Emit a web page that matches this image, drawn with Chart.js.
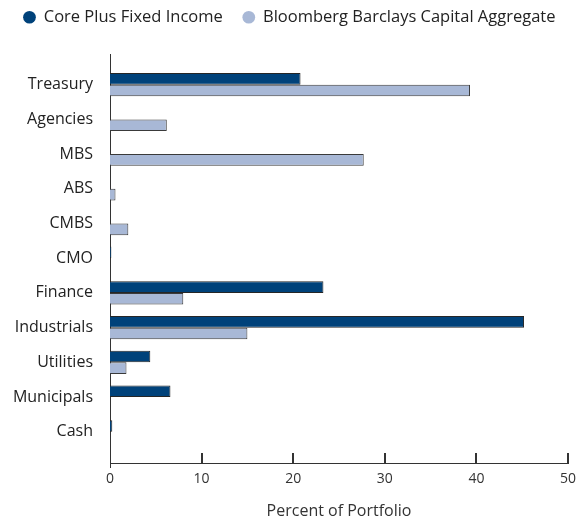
<!DOCTYPE html>
<html>
<head>
<meta charset="utf-8">
<script src="https://cdn.jsdelivr.net/npm/chart.js@4/dist/chart.umd.min.js"></script>
<style>
  html, body { margin: 0; padding: 0; background: #fff; }
  #wrap { width: 579px; height: 521px; position: relative; }
</style>
</head>
<body>
<div id="wrap"><canvas id="sectorChart"></canvas></div>
<script>
// Sector weights, percent of portfolio
var sectors = ['Treasury', 'Agencies', 'MBS', 'ABS', 'CMBS', 'CMO', 'Finance', 'Industrials', 'Utilities', 'Municipals', 'Cash'];
var corePlus = [20.8, 0, 0, 0, 0, 0.15, 23.3, 45.2, 4.4, 6.6, 0.25];
var aggregate = [39.3, 6.2, 27.7, 0.6, 2.0, 0, 8.0, 15.0, 1.8, 0, 0];
var xTicks = [0, 10, 20, 30, 40, 50];

var fontFamily = '"Open Sans", "Noto Sans", sans-serif';

function toPoints(values) {
    return values.map(function (v, i) { return { x: v, y: i }; });
}

// short tick marks standing up from the x axis, plus the little stub of the y axis below it
var axisMarks = {
    id: 'axisMarks',
    afterDraw: function (chart) {
        var ctx = chart.ctx;
        var xs = chart.scales.x;
        var area = chart.chartArea;
        ctx.save();
        ctx.strokeStyle = '#333';
        ctx.lineWidth = 2;
        xTicks.forEach(function (t) {
            if (t === 0) return;
            var px = Math.round(xs.getPixelForValue(t));
            ctx.beginPath();
            ctx.moveTo(px, area.bottom - 10);
            ctx.lineTo(px, area.bottom);
            ctx.stroke();
        });
        ctx.lineWidth = 1;
        ctx.beginPath();
        ctx.moveTo(area.left + 0.5, area.bottom);
        ctx.lineTo(area.left + 0.5, area.bottom + 5);
        ctx.stroke();
        ctx.restore();
    }
};

// extra room between the legend row and the plot
var legendGap = {
    id: 'legendGap',
    beforeInit: function (chart) {
        var fit = chart.legend.fit;
        chart.legend.fit = function () {
            fit.call(this);
            this.height += 19;
        };
    }
};

var ctx = document.getElementById('sectorChart');
var myChart = new Chart(ctx, {
    type: 'bar',
    data: {
        datasets: [{
            label: 'Core Plus Fixed Income',
            data: toPoints(corePlus),
            backgroundColor: '#00427a',
            borderColor: '#262626',
            borderWidth: 1,
            borderSkipped: 'start',
            barPercentage: 1.0,
            categoryPercentage: 0.67
        }, {
            label: 'Bloomberg Barclays Capital Aggregate',
            data: toPoints(aggregate),
            backgroundColor: '#a8b8d6',
            borderColor: '#3a3a3a',
            borderWidth: 1,
            borderSkipped: 'start',
            barPercentage: 1.0,
            categoryPercentage: 0.67
        }]
    },
    options: {
        indexAxis: 'y',
        responsive: true,
        maintainAspectRatio: false,
        animation: false,
        layout: { padding: { left: 0, right: 0, top: -11, bottom: 0 } },
        plugins: {
            legend: {
                position: 'top',
                labels: {
                    usePointStyle: true,
                    pointStyle: 'circle',
                    boxWidth: 12,
                    boxHeight: 9,
                    padding: 20,
                    color: '#222',
                    font: { family: fontFamily, size: 16.5 },
                    generateLabels: function (chart) {
                        return chart.data.datasets.map(function (ds, i) {
                            return {
                                text: ds.label,
                                fillStyle: ds.backgroundColor,
                                strokeStyle: ds.backgroundColor,
                                lineWidth: 0,
                                pointStyle: 'circle',
                                fontColor: '#222',
                                datasetIndex: i
                            };
                        });
                    }
                }
            },
            tooltip: { enabled: false }
        },
        scales: {
            x: {
                type: 'linear',
                min: 0,
                max: 50,
                afterBuildTicks: function (scale) {
                    scale.ticks = xTicks.map(function (v) { return { value: v }; });
                },
                afterFit: function (scale) {
                    scale.paddingLeft = 0;
                    scale.paddingRight = 11;
                },
                grid: { display: false, drawTicks: false },
                border: { display: true, color: '#333', width: 1 },
                ticks: {
                    padding: 8,
                    color: '#333',
                    font: { family: fontFamily, size: 14 }
                },
                title: {
                    display: true,
                    text: 'Percent of Portfolio',
                    color: '#333',
                    font: { family: fontFamily, size: 16 },
                    padding: { top: 6, bottom: 0 }
                }
            },
            y: {
                type: 'linear',
                reverse: true,
                offset: false,
                min: -0.87,
                max: 10.9,
                afterBuildTicks: function (scale) {
                    scale.ticks = sectors.map(function (s, i) { return { value: i }; });
                },
                afterFit: function (scale) { scale.width = 110; },
                grid: { display: false, drawTicks: false, offset: false },
                border: { display: true, color: '#333', width: 1 },
                ticks: {
                    padding: 17,
                    color: '#222',
                    font: { family: fontFamily, size: 16 },
                    callback: function (value) { return sectors[value]; }
                }
            }
        }
    },
    plugins: [axisMarks, legendGap]
});
</script>
</body>
</html>
